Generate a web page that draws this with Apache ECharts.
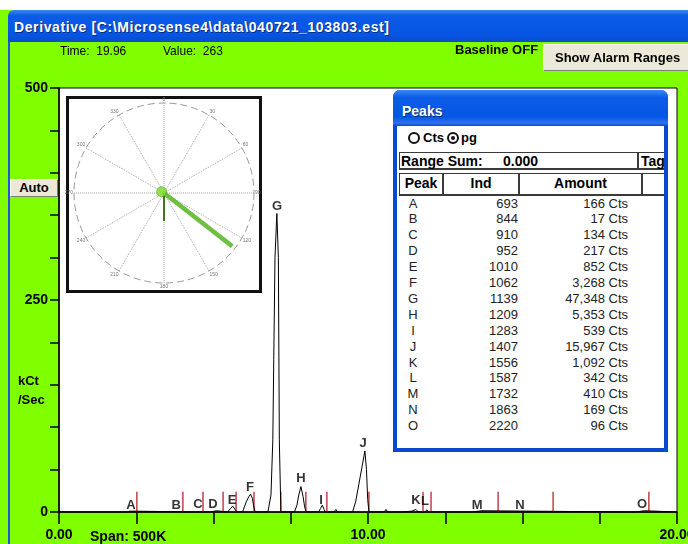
<!DOCTYPE html>
<html>
<head>
<meta charset="utf-8">
<script src="https://cdn.jsdelivr.net/npm/echarts@6/dist/echarts.min.js"></script>
<style>
  body { margin: 0; }
  #wrap { position: relative; width: 688px; height: 544px; overflow: hidden; background: #fff;
          font-family: 'Liberation Sans', Arial, sans-serif; }
  #chart { position: absolute; left: 0; top: 0; width: 688px; height: 544px; }
  .abs { position: absolute; white-space: pre; line-height: 16px; }
  .b { font-weight: bold; }
  .btn { position: absolute; background: #ece9d8; border: 1px solid; border-color: #fff #7a7a7a #7a7a7a #fff;
         box-sizing: border-box; font-weight: bold; font-size: 13px; line-height: 16px; }
  .cell { position: absolute; box-sizing: border-box; border: 1px solid #3a3a3a; border-right-width: 2px;
          border-bottom-width: 2px; font-weight: bold; font-size: 14px; text-align: center; line-height: 19px; }
  .radio { position: absolute; width: 12px; height: 12px; border: 2px solid #111; border-radius: 50%; box-sizing: border-box; }
</style>
</head>
<body>
<div id="wrap">
  <div id="chart"></div>

  <!-- window chrome -->
  <div class="abs" style="left:0;top:0;width:688px;height:10px;background:#fff"></div>
  <div class="abs" style="left:8px;top:10px;width:680px;height:32px;border-top-left-radius:6px;
       background:linear-gradient(#3d87f2,#0b5be8 18%,#0654e2 80%,#0a4cc9)"></div>
  <div class="abs b" style="left:14px;top:19px;color:#fff;font-size:14px;letter-spacing:0.6px;text-shadow:1px 1px #0a2a7a">Derivative [C:\Microsense4\data\040721_103803.est]</div>
  <div class="abs" style="left:8px;top:42px;width:2px;height:502px;background:#1d56dc"></div>

  <div class="abs" style="left:60px;top:43px;font-size:12px">Time:  19.96</div>
  <div class="abs" style="left:163px;top:43px;font-size:12px">Value:  263</div>
  <div class="abs b" style="left:455px;top:42px;font-size:13px">Baseline OFF</div>
  <div class="btn" style="left:543px;top:44px;width:150px;height:27px;padding:5px 0 0 11px">Show Alarm Ranges</div>
  <div class="btn" style="left:10px;top:179px;width:48px;height:18px;text-align:center;line-height:16px">Auto</div>

  <div class="abs b" style="left:18px;top:373px;font-size:13px">kCt</div>
  <div class="abs b" style="left:18px;top:392px;font-size:13px">/Sec</div>
  <div class="abs b" style="left:90px;top:528px;font-size:14px">Span: 500K</div>

  <!-- Peaks panel -->
  <div class="abs" style="left:393px;top:90px;width:275px;height:362px;background:#0a48d0;border-radius:7px 7px 0 0"></div>
  <div class="abs" style="left:393px;top:90px;width:275px;height:36px;border-radius:7px 7px 0 0;
       background:linear-gradient(#3a88f6,#0c5ce8 20%,#0556e4 75%,#2a74ec 92%,#0a48d0)"></div>
  <div class="abs b" style="left:402px;top:103px;color:#fff;font-size:14px;text-shadow:1px 1px #0a2a7a">Peaks</div>
  <div id="inner" class="abs" style="left:397px;top:126px;width:267px;height:322px;background:#fff;overflow:hidden"></div>
</div>

<script>
// trace of the derivative signal (minutes, kCt/Sec)
const traceX = [0, 2.2, 2.3, 2.4, 2.45, 4.45, 4.5, 4.55, 4.9, 4.95, 5.1, 5.15,
  5.45, 5.55, 5.62, 5.7, 5.75, 5.94, 6.0, 6.06, 6.14, 6.2, 6.26, 6.3, 6.35,
  6.76, 6.86, 6.92, 6.95, 6.99, 7.05, 7.1, 7.13, 7.18,
  7.62, 7.7, 7.76, 7.83, 7.9, 7.95, 8.0, 8.4, 8.46, 8.52, 8.58, 8.62,
  8.9, 8.96, 9.02, 9.5, 9.6, 9.7, 9.8, 9.9, 9.95, 9.99, 10.03,
  10.52, 10.58, 10.64, 11.12, 11.14, 11.42, 11.46, 11.48, 11.55, 11.63,
  11.85, 11.9, 11.98, 13.35, 13.37, 13.68, 13.7,
  18.5, 18.54, 18.58, 18.67, 18.69, 18.94, 18.96, 20];
const traceY = [0, 0, 1, 1, 0, 0, 1, 0, 0, 1.5, 1.5, 0,
  0, 4, 7, 3, 0, 0, 6, 12, 18, 21, 16, 7, 0,
  0, 20, 85, 180, 300, 352, 300, 85, 0,
  0, 8, 20, 30, 18, 6, 0, 0, 4, 8, 3, 0,
  0, 3, 0, 0, 12, 32, 52, 72, 50, 15, 0,
  0, 3, 0, 0, 1, 1, 0, 0, 3, 0,
  0, 2.5, 0, 0, 1.5, 1.5, 0,
  0, 1, 0, 0, 1.5, 1.5, 0, 0];

const peakNames = ['A', 'B', 'C', 'D', 'E', 'F', 'G', 'H', 'I', 'J', 'K', 'L', 'M', 'N', 'O'];
const peakInd = [693, 844, 910, 952, 1010, 1062, 1139, 1209, 1283, 1407, 1556, 1587, 1732, 1863, 2220];
const peakAmount = [166, 17, 134, 217, 852, 3268, 47348, 5353, 539, 15967, 1092, 342, 410, 169, 96];
const peakLabelX = [2.33, 3.79, 4.5, 4.98, 5.6, 6.18, 7.06, 7.83, 8.48, 9.84, 11.55, 11.84, 13.53, 14.92, 18.87];
const peakLabelY = [8, 8, 9, 9, 14, 29, 360, 40, 14, 81, 14, 13, 8, 8, 9];

const boundaryX = [2.52, 4.01, 4.66, 5.31, 5.73, 6.31, 7.18, 7.99, 8.67, 10.03, 11.78, 12.04, 14.21, 15.99, 19.09];
const boundaryTop = 24;

const xLabelValues = [0, 10, 20];
const xLabelText = ['0.00', '10.00', '20.00'];
const yLabelValues = [0, 250, 500];

// inset dial
const needleAngle = [128, 180];
const needleLength = [0.96, 0.31];

const font = "'Liberation Sans', Arial, sans-serif";

// peaks table
const inner = document.getElementById('inner');
const ox = 397, oy = 126;
function add(html) { inner.insertAdjacentHTML('beforeend', html); }
add(`<div class="radio" style="left:${408 - ox}px;top:${132 - oy}px"></div>`);
add(`<div class="abs b" style="left:${423 - ox}px;top:${130 - oy}px;font-size:13px">Cts</div>`);
add(`<div class="radio" style="left:${447 - ox}px;top:${132 - oy}px"></div>`);
add(`<div class="abs" style="left:${451 - ox}px;top:${136 - oy}px;width:4px;height:4px;border-radius:50%;background:#111"></div>`);
add(`<div class="abs b" style="left:${461 - ox}px;top:${130 - oy}px;font-size:13px">pg</div>`);
add(`<div class="abs" style="left:${399 - ox}px;top:${152 - oy}px;width:270px;height:18px;box-sizing:border-box;border:1px solid #3a3a3a;border-bottom-width:2px"></div>`);
add(`<div class="abs b" style="left:${401 - ox}px;top:${153 - oy}px;font-size:14px">Range Sum:</div>`);
add(`<div class="abs b" style="left:${503 - ox}px;top:${153 - oy}px;font-size:14px">0.000</div>`);
add(`<div class="abs" style="left:${637 - ox}px;top:${152 - oy}px;width:2px;height:18px;background:#3a3a3a"></div>`);
add(`<div class="abs b" style="left:${641 - ox}px;top:${153 - oy}px;font-size:14px">Tag</div>`);
const heads = [['Peak', 399, 443], ['Ind', 443, 519], ['Amount', 519, 642], ['', 642, 680]];
heads.forEach(h => add(`<div class="cell" style="left:${h[1] - ox}px;top:${173 - oy}px;width:${h[2] - h[1] + 1}px;height:23px">${h[0]}</div>`));
peakNames.forEach((n, i) => {
  const top = 195.5 + 15.9 * i - oy;
  add(`<div class="abs" style="left:${399 - ox}px;top:${top}px;width:28px;text-align:center;font-size:13px;color:#222">${n}</div>`);
  add(`<div class="abs" style="left:${443 - ox}px;top:${top}px;width:75px;text-align:right;font-size:13px;color:#222">${peakInd[i]}</div>`);
  add(`<div class="abs" style="left:${519 - ox}px;top:${top}px;width:109px;text-align:right;font-size:13px;color:#222">${peakAmount[i].toLocaleString('en-US')} Cts</div>`);
});

const chart = echarts.init(document.getElementById('chart'));
chart.setOption({
  backgroundColor: '#80ff00',
  animation: false,
  graphic: [{
    type: 'rect', z: 1,
    shape: {x: 67.5, y: 97.5, width: 193, height: 194},
    style: {fill: '#fff', stroke: '#111', lineWidth: 3}
  }],
  grid: {
    left: 59, top: 88, right: 11, bottom: 32, outerBoundsMode: 'none',
    show: true, backgroundColor: '#fff', borderColor: '#000', borderWidth: 1, z: 0
  },
  xAxis: {
    type: 'value', min: 0, max: 20, interval: 2.5,
    axisLine: {lineStyle: {color: '#000', width: 1.5}},
    axisTick: {length: 12, lineStyle: {color: '#000', width: 1.5}},
    splitLine: {show: false},
    axisLabel: {
      margin: 16, color: '#000', fontWeight: 'bold', fontSize: 14, fontFamily: font,
      formatter: v => { const i = xLabelValues.indexOf(v); return i < 0 ? '' : xLabelText[i]; }
    }
  },
  yAxis: {
    type: 'value', min: 0, max: 500, interval: 50,
    axisLine: {show: true, lineStyle: {color: '#000', width: 1.5}},
    axisTick: {show: true, length: 9, lineStyle: {color: '#000', width: 1.5}},
    splitLine: {show: false},
    axisLabel: {
      margin: 11, color: '#000', fontWeight: 'bold', fontSize: 14, fontFamily: font,
      formatter: v => yLabelValues.indexOf(v) < 0 ? '' : String(v)
    }
  },
  polar: {center: [164, 193], radius: 90},
  angleAxis: {
    type: 'value', min: 0, max: 360, interval: 30, startAngle: 90, clockwise: true, z: 2,
    axisLine: {lineStyle: {color: '#999', width: 1, type: [7, 4]}},
    axisTick: {show: false},
    splitLine: {lineStyle: {color: '#aaa', width: 1, type: 'dotted'}},
    axisLabel: {fontSize: 5, color: '#777', margin: 1, formatter: v => v === 360 ? '' : String(v)}
  },
  radiusAxis: {
    type: 'value', min: 0, max: 1, z: 2,
    axisLine: {show: false}, axisTick: {show: false}, axisLabel: {show: false}, splitLine: {show: false}
  },
  series: [
    {
      type: 'line', symbol: 'none', z: 3,
      lineStyle: {color: '#000', width: 1},
      data: traceX.map((x, i) => [x, traceY[i]])
    },
    {
      type: 'custom', z: 3,
      data: boundaryX.map(x => [x, boundaryTop]),
      renderItem: (params, api) => {
        const p0 = api.coord([api.value(0), 0]);
        const p1 = api.coord([api.value(0), api.value(1)]);
        return {type: 'line', shape: {x1: p0[0], y1: p0[1], x2: p1[0], y2: p1[1]}, style: {stroke: '#b3121a', lineWidth: 1.2}};
      }
    },
    {
      type: 'scatter', symbolSize: 1, z: 4,
      itemStyle: {color: 'rgba(0,0,0,0)'},
      label: {show: true, position: 'inside', formatter: '{b}', color: '#000', fontWeight: 'bold', fontSize: 13, fontFamily: font},
      data: peakNames.map((n, i) => ({name: n, value: [peakLabelX[i], peakLabelY[i]]}))
    },
    {
      type: 'line', coordinateSystem: 'polar', symbol: 'none', z: 5,
      lineStyle: {color: '#3d7a1c', width: 2},
      data: [[0, needleAngle[1]], [needleLength[1], needleAngle[1]]]
    },
    {
      type: 'line', coordinateSystem: 'polar', symbol: 'none', z: 6,
      lineStyle: {color: '#6cc23a', width: 4, shadowColor: 'rgba(30,60,10,0.6)', shadowBlur: 1},
      data: [[0, needleAngle[0]], [needleLength[0], needleAngle[0]]]
    },
    {
      type: 'scatter', coordinateSystem: 'polar', z: 7,
      symbolSize: 10, itemStyle: {color: '#78e021', borderColor: '#3d7a1c', borderWidth: 0.5},
      data: [[0.03, 300]]
    }
  ]
});
</script>
</body>
</html>
